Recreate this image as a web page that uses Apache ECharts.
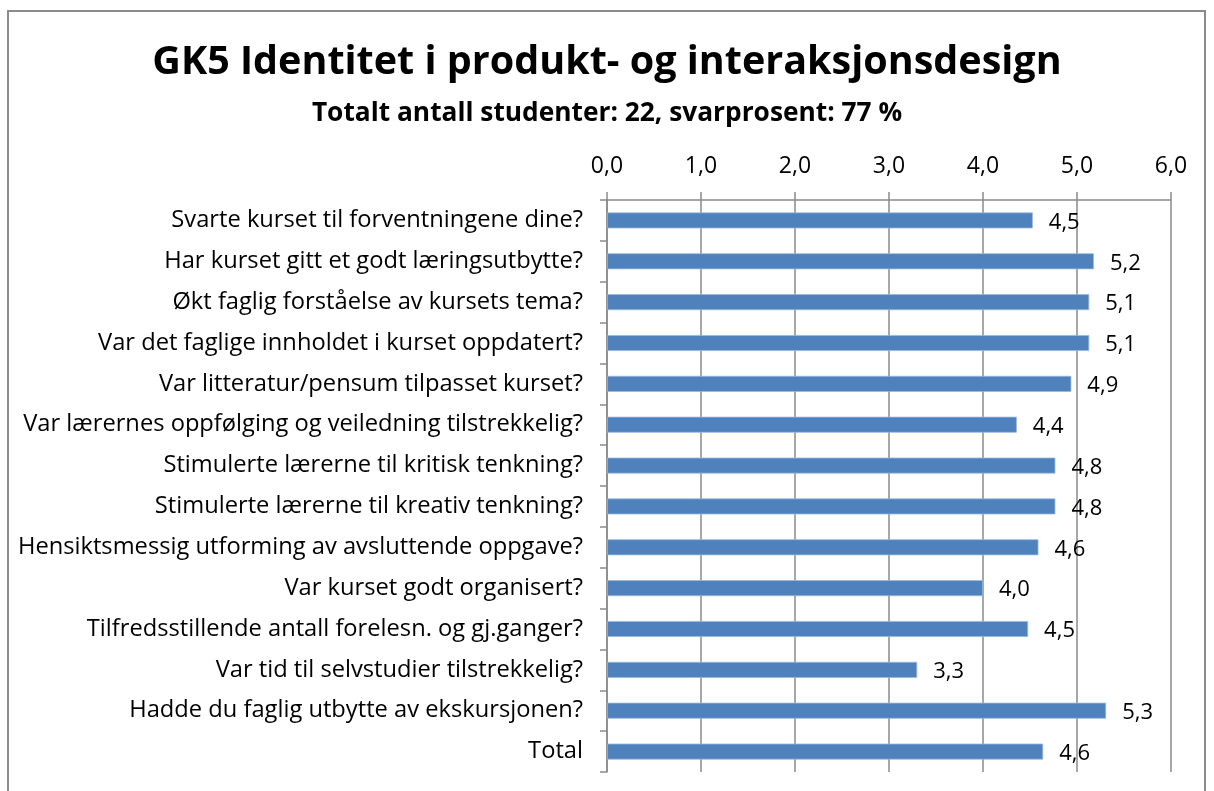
<!DOCTYPE html>
<html>
<head>
<meta charset="utf-8">
<script src="https://cdn.jsdelivr.net/npm/echarts@6/dist/echarts.min.js"></script>
<style>
  html, body { margin: 0; padding: 0; background: #fff; }
  #frame {
    position: absolute; left: 7px; top: 10px; width: 1199px; height: 800px;
    border: 2px solid #8c8c8c; box-sizing: border-box;
  }
  #chart { position: absolute; left: 0; top: 0; width: 1214px; height: 791px; }
</style>
</head>
<body>
<div id="frame"></div>
<div id="chart"></div>
<script>
// survey questions, top to bottom
const questions = [
  'Svarte kurset til forventningene dine?',
  'Har kurset gitt et godt læringsutbytte?',
  'Økt faglig forståelse av kursets tema?',
  'Var det faglige innholdet i kurset oppdatert?',
  'Var litteratur/pensum tilpasset kurset?',
  'Var lærernes oppfølging og veiledning tilstrekkelig?',
  'Stimulerte lærerne til kritisk tenkning?',
  'Stimulerte lærerne til kreativ tenkning?',
  'Hensiktsmessig utforming av avsluttende oppgave?',
  'Var kurset godt organisert?',
  'Tilfredsstillende antall forelesn. og gj.ganger?',
  'Var tid til selvstudier tilstrekkelig?',
  'Hadde du faglig utbytte av ekskursjonen?',
  'Total'
];
// mean scores
const scores = [4.53, 5.18, 5.13, 5.13, 4.94, 4.36, 4.77, 4.77, 4.59, 4.00, 4.48, 3.30, 5.31, 4.64];

const titleText = 'GK5 Identitet i produkt- og interaksjonsdesign';
const subtitleText = 'Totalt antall studenter: 22, svarprosent: 77 %';

const FONT = 'Open Sans';
const fmt = v => v.toFixed(1).replace('.', ',');

const chart = echarts.init(document.getElementById('chart'));
chart.setOption({
  animation: false,
  textStyle: { fontFamily: FONT },
  title: [
    {
      text: titleText, left: 'center', top: 38,
      textStyle: { fontFamily: FONT, fontSize: 39.5, fontWeight: 'bold', color: '#000' }
    },
    {
      text: subtitleText, left: 'center', top: 96,
      textStyle: { fontFamily: FONT, fontSize: 26.3, fontWeight: 'bold', color: '#000' }
    }
  ],
  grid: { left: 607, right: 43, top: 200, bottom: 19 },
  xAxis: {
    type: 'value', position: 'top', min: 0, max: 6, interval: 1,
    axisLine: { show: true, lineStyle: { color: '#8a8a8a', width: 1.5 } },
    axisTick: { show: true, length: 8, lineStyle: { color: '#8a8a8a', width: 1.5 } },
    splitLine: { show: true, lineStyle: { color: '#8a8a8a', width: 1.5 } },
    axisLabel: { formatter: fmt, fontSize: 23, color: '#000', margin: 22 }
  },
  yAxis: {
    type: 'category', inverse: true, data: questions,
    axisLine: { show: true, lineStyle: { color: '#8a8a8a', width: 1.5 } },
    axisTick: { show: true, length: 7, lineStyle: { color: '#8a8a8a', width: 1.5 } },
    axisLabel: { fontSize: 23.7, color: '#000', margin: 24 }
  },
  series: [{
    type: 'bar', data: scores, barWidth: 16,
    itemStyle: { color: '#4f81bd', borderColor: '#9bb9de', borderWidth: 0.8 },
    label: {
      show: true, position: 'right', distance: 16, offset: [0, 2],
      formatter: p => fmt(p.value), fontSize: 22, color: '#000'
    }
  }]
});
</script>
</body>
</html>
